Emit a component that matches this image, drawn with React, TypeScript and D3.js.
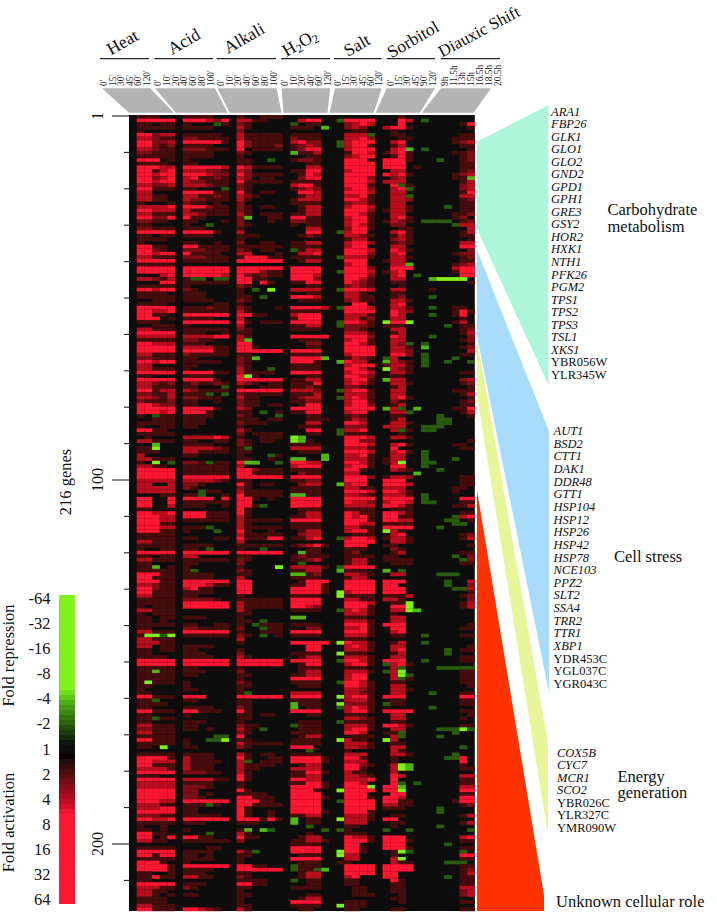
import React from "react";
import * as d3 from "d3";

// Conditions and their time points
const conditions = ["Heat", "Acid", "Alkali", "H2O2", "Salt", "Sorbitol", "Diauxic Shift"];
const timeLabels = [
  ["0'", "15'", "30'", "45'", "60'", "120'"],
  ["0'", "10'", "20'", "40'", "60'", "80'", "100'"],
  ["0'", "10'", "20'", "40'", "60'", "80'", "100'"],
  ["0'", "10'", "20'", "40'", "60'", "120'"],
  ["0'", "15'", "30'", "45'", "60'", "120'"],
  ["0'", "15'", "30'", "45'", "90'", "120'"],
  ["9h", "11.5h", "13h", "15h", "16.5h", "18.5h", "20.5h"],
];
const hasZeroColumn = [true, true, true, true, true, true, false];

// 0 black, 1-4 rising red, a-c rising green.
// Groups: Heat Acid Alkali H2O2 Salt Sorbitol Diauxic (zero-minute columns left out).
const geneRows = [
"11100 111100 100111 00000 00000 00100 0000000",
"44444 444324 331100 03440 a4444 00430 a000000",
"11011 1000a1 210000 a0110 02343 00400 0000014",
"11111 111100 310000 1110b 02320 34410 0000001",
"10000 000000 200000 00000 00110 01000 0000000",
"44233 111110 311111 11110 0333a 01100 0000011",
"33211 221111 311111 21110 03342 00110 0000111",
"44223 444441 421111 34220 a3444 03400 0000123",
"44212 111100 421112 12320 a3441 01300 0000011",
"33211 222111 401111 12440 03444 034b0 a000001",
"22111 111100 210000 b1130 01443 13410 0000112",
"11111 111100 100000 00110 02344 01410 0000012",
"44401 100000 1100a0 12210 04441 44410 00a0012",
"11110 110000 110000 00110 04444 44400 0000011",
"44433 444443 431111 00330 04444 44401 0000011",
"44134 333221 320000 11440 03444 03300 0000012",
"44344 444322 421111 01430 04444 43410 0000123",
"44234 341121 320110 02440 04442 02300 000011b",
"44344 322111 411111 11110 04443 33300 0000013",
"33223 333211 210000 34410 04441 04a10 0000023",
"44111 11000a 210000 12320 03442 034a0 0000023",
"33000 444411 410110 04430 04443 03300 0000014",
"33110 331121 321000 01330 03341 033a0 0000033",
"33110 322111 310000 13330 04431 03320 0000012",
"10001 211010 200000 11110 02331 03300 0000011",
"33334 444211 210110 01330 03443 03310 000a011",
"44333 311111 210000 01330 04442 13310 0000011",
"33111 332111 310111 11330 04431 03300 0000112",
"44224 411000 2b0011 44110 03441 03410 0000120",
"22110 110001 200010 22110 03441 13210 aaaa012",
"11000 100a00 210000 10110 03431 02200 0000a33",
"22111 111000 100000 00330 02441 00110 0000003",
"44444 444410 300000 00440 a3440 03410 0000013",
"11011 111100 111000 01210 03321 01310 0000011",
"11110 000000 100000 00000 01330 02310 0000001",
"10000 110010 200110 11330 03442 01210 0000033",
"44110 441111 111111 11110 03440 03300 0000044",
"44210 222111 210110 a1330 04443 04310 0000002",
"44344 411110 330001 03340 04442 03400 0000122",
"33111 222111 144411 11110 a3331 03310 0000012",
"44444 111111 444444 01330 04440 13300 0000011",
"11111 000000 000000 00000 03440 033b0 0000123",
"44444 444444 444444 44440 04442 04440 0000344",
"44444 444444 444211 44440 a4443 13400 0000144",
"00034 444443 421211 44430 04442 0340a 0000044",
"33213 1aa0aa 441100 44420 04431 03300 0bcccc0",
"00044 111111 440410 11440 04321 01100 0000001",
"11111 100000 210000 00110 02321 00100 0000000",
"44344 210000 10a0c0 33330 a4443 03300 0100000",
"11110 111000 100000 00110 03310 01100 0000000",
"11111 111000 110a00 44430 03311 01200 0a00000",
"00111 111100 210000 01110 02311 03310 0000000",
"11110 000011 100000 00000 00440 03400 0000000",
"44444 111211 210001 44443 a4443 03310 0a00110",
"44334 111111 310000 11110 04444 04320 0000141",
"44110 444444 441100 34440 03331 04300 0a00140",
"44401 111100 300000 14440 03312 03300 0000010",
"11100 444444 410111 44440 a4431 c44c0 0000130",
"00111 100000 300000 11330 a2221 11100 000a011",
"33111 111111 210000 11110 02210 03300 0000012",
"44444 111001 110000 00000 03331 01300 0000013",
"33333 333344 310000 44444 04442 04300 0a00002",
"11111 221100 3b0000 01110 03441 03300 0000012",
"44333 111000 440000 00220 04431 032a0 a000001",
"44444 333311 441000 00110 04444 03310 b000012",
"44444 444411 444444 44440 04444 03320 0000003",
"33111 211111 110000 11110 03444 04420 a000011",
"22111 110000 21b000 4444b 01321 a3000 a000a00",
"44344 111110 210000 44410 b4330 b3210 a00a00a",
"33000 110000 210000 11110 03444 13310 a000000",
"33111 100000 3100a0 11110 04431 c3210 0000000",
"44444 444411 311110 44440 03443 03310 0000011",
"11000 111100 4c1000 00110 04432 01100 0000000",
"44444 444410 444444 11330 03441 b3300 0000023",
"33212 121121 321011 11140 03431 03310 0000012",
"33111 11000a 100111 11210 02210 01300 0000001",
"44133 321111 444444 33320 a3441 03300 0000111",
"22113 111a0a 211111 11130 03331 03300 0000013",
"33213 221110 311000 12330 a3431 03410 0000001",
"21112 110010 211000 11220 03441 02100 0000012",
"44322 110000 211011 01440 03442 01300 0000011",
"44444 444410 320000 44440 04444 b3a0b 0000114",
"44434 444100 110a01 11440 03440 033a0 0000013",
"10a11 111100 21000a 00110 01210 01100 00a0001",
"00111 111000 111011 00111 01320 01300 00aa000",
"11111 111000 211100 00330 04430 03310 00aa000",
"10011 110000 100000 01110 02220 33300 aaa0000",
"44110 000000 310000 00440 a3340 03a10 aa00000",
"11111 000000 201111 00110 a1110 00100 0000000",
"01000 333343 100111 cb000 04443 03310 0000000",
"33111 110011 210110 cb100 04422 00000 0000001",
"00b00 111100 210000 11110 04443 03410 0000110",
"11c00 333321 1a0000 33330 03331 04000 0000011",
"11100 331111 110000 01110 04443 03410 a000000",
"30000 110000 1000a1 0000b 03341 03300 a000000",
"33111 000000 110010 bb00b 03331 13300 a000a00",
"10c0a 221a11 4bb00a 44330 04431 13c00 aa00000",
"33110 111111 300000 34440 03441 04400 a000000",
"44444 111111 442111 11110 04410 03210 00a0000",
"44444 111111 441111 02110 03300 0000b 0000000",
"44444 444444 444444 44440 04442 13320 0000011",
"33333 333321 110000 11220 04440 44400 0000011",
"33003 221000 410110 02330 b3440 44430 0000011",
"33333 210000 210000 11110 03311 33300 0000110",
"33333 00a110 311111 11110 04443 44310 0000100",
"00011 11a001 411111 bb110 03321 33310 a000000",
"44004 444404 441010 44440 04444 44440 a000044",
"44004 111111 440000 44440 04332 34430 aa00011",
"44003 111001 441a00 44440 03333 44310 0000113",
"11000 000000 410000 01110 01111 01110 0000000",
"44334 444111 410000 01330 04311 44310 0000011",
"44433 444111 310000 11330 04341 44110 0000a34",
"44433 111111 311111 44440 04441 44330 000aa01",
"44411 000000 310000 11110 04433 11110 0000aa0",
"44433 111a00 311111 11110 03311 44440 00a0000",
"44411 1000a0 410010 01330 03441 c3100 0000000",
"11111 000000 311111 02330 00111 03400 0000012",
"11111 110011 411144 11340 a3443 13310 0000013",
"33111 000000 300000 00000 04444 03310 0000000",
"11111 111100 111111 12341 04440 11000 0000001",
"10011 110a00 100a00 00110 01110 02100 0000000",
"44444 444444 444444 0b110 01200 01300 0000011",
"11011 330000 110000 12111 01111 11000 0000a02",
"33111 111111 210000 11230 01330 11110 00000a2",
"11000 110000 200000 0a000 01330 01110 0000011",
"11b01 100000 10000c 33331 a4444 00000 0000000",
"11111 1a0000 210000 11330 b1110 b0a00 0000000",
"44411 111100 110000 bb120 03321 03300 00aaa00",
"44111 111100 300000 11110 01330 00000 0000000",
"44411 444444 440000 01444 04444 44400 000a003",
"33211 444311 440000 11441 04444 44000 000a002",
"44211 341100 440000 44441 04444 44400 0000aa3",
"44111 111100 440000 44441 c3444 44400 0000001",
"33111 110000 100000 11110 c1111 11130 0000012",
"11111 222210 111111 44440 03311 33100 0000002",
"11111 444444 311111 44440 04443 011c0 0000013",
"10111 444444 311111 44320 04441 044c0 0000013",
"33111 000000 310000 11110 a3431 033cb 0000000",
"10111 000000 110000 00000 03331 01000 0000000",
"11011 111000 100000 bb000 01110 03300 0000000",
"11010 000000 110a00 00000 03331 03300 0000000",
"11111 110011 10a111 11110 04441 44400 0000001",
"11000 221111 200a11 00220 03341 04400 0000011",
"33111 444444 100111 44440 04441 03400 0000000",
"1ccac 111111 210a01 11110 03331 01100 a000011",
"33111 000000 300000 00000 01110 00000 0000000",
"33311 000000 100000 44444 c4331 01300 a000000",
"33011 111100 000000 00440 03431 03300 0000001",
"11011 110000 100000 00440 03331 03400 000a011",
"11000 111000 200000 11110 c1110 01300 000a000",
"11110 111100 310000 01330 03331 03300 0000011",
"44444 444444 444444 44440 a4431 44400 a000011",
"44444 444444 444444 01440 03441 a3410 0000000",
"11111 110000 100000 01110 01110 03a00 00aaaaa",
"11b11 111000 200000 01330 03331 a3c00 0000011",
"11111 110000 110000 11330 03440 03ca0 0000011",
"11111 000000 100000 44440 03440 03a10 0000011",
"1c111 100000 210000 11110 a4431 01100 0000011",
"11000 100000 110000 01110 04431 03300 0000001",
"10000 110000 100000 00000 03321 03310 0000000",
"11000 000000 1a0000 33330 03321 03300 0a00011",
"44111 444000 444444 44440 c3441 44400 0000044",
"11a00 110000 110000 11110 03331 01100 0000011",
"11110 000000 110000 b1110 c2221 a1100 0000011",
"11000 111100 210000 b0110 a3431 00000 0a00000",
"44111 441110 410000 44440 03441 44440 0000011",
"11000 100000 110110 00110 01110 03300 0000001",
"11a11 000000 110000 00000 03321 03300 0000010",
"11000 111000 100000 01110 a1111 01100 0000000",
"33111 110000 211000 a1110 03331 44310 0000011",
"22111 110100 310a00 01110 03441 03300 00aaaca",
"33111 000000 210000 11110 04430 11a00 0000a00",
"11111 0000aa 400000 01330 00111 03a00 00a0000",
"44111 100aac 110000 11110 c3110 c3000 0000000",
"11111 100000 311111 11110 03331 01100 0000000",
"110c0 110000 210000 44400 03321 03300 00000a0",
"00000 000000 000000 00a00 01000 03100 0000000",
"11111 111100 310110 11110 03330 03310 0000a00",
"44441 311100 410011 44441 04410 01000 000aa40",
"44333 311110 3a0111 44441 03330 01000 0000040",
"44111 311100 311110 01330 04421 03cb0 0000010",
"33331 311100 311000 33330 04410 03cb0 0000011",
"44444 222110 310000 11441 03110 03000 0000000",
"11100 000000 410000 11330 03321 04300 0000033",
"44444 333311 410000 44330 03334 04000 0000011",
"33333 111100 100000 11441 04430 04a0a 0000011",
"33333 222100 100000 44441 0444c 44b00 0000033",
"44444 220000 410000 44410 c4444 44c00 0000044",
"44444 220100 111100 44440 04440 04400 0000011",
"44444 221000 441110 44441 04441 44300 0000044",
"44433 444444 444110 44440 a4444 44110 0000144",
"33311 111a10 441111 44440 04444 33110 0000012",
"33344 110000 410000 44440 04444 11100 00a0000",
"44444 110000 410010 44441 04441 00000 00a0000",
"22211 111110 410010 11330 03331 01100 0000013",
"44334 444444 444141 b0110 c3331 44000 0000000",
"11111 111000 111000 b0110 03330 01100 0000013",
"10010 000000 000000 00a00 01100 01000 00a0000",
"11010 100000 1b0ba0 0000a a1000 a00a0 000000a",
"44110 000a00 310000 00100 01110 00000 0000000",
"44014 441100 411000 01330 04331 44400 0000034",
"33110 111111 200000 11331 04441 44410 0000011",
"00000 000000 000000 11110 04400 44400 000a000",
"11111 000110 000000 44440 04410 44410 0000011",
"44444 111100 31a000 44440 c4410 01ca0 00000a0",
"44144 110100 110000 01110 c3300 01000 0000044",
"11111 111100 100000 44440 03300 03c00 0000011",
"44410 100000 100000 01110 11000 03110 000aaa0",
"44441 444444 441100 a1110 04444 44440 0000011",
"44441 111100 444444 a11ab 04444 44440 0000012",
"11001 111000 110000 01330 04444 44000 0000013",
"11411 331100 210000 01330 03400 44000 000a011",
"11000 000000 111100 a0110 01100 04100 0000011",
"44444 111000 441100 00110 01100 01100 0000011",
"33311 210000 110000 11110 00110 01100 0000033",
"33110 000000 100000 00000 00110 01100 0000023",
"33101 110000 110000 00110 00111 00100 0000023",
"11110 000000 100000 01330 00000 01100 0000000",
"11110 000000 100000 44440 01110 00100 0000011",
"33111 000000 110000 11110 c1110 00000 0000000",
"44111 443210 310000 01100 01100 01100 0000011",
];

const groupLabels = [
  "ARA1 FBP26 GLK1 GLO1 GLO2 GND2 GPD1 GPH1 GRE3 GSY2 HOR2 HXK1 NTH1 PFK26 PGM2 TPS1 TPS2 TPS3 TSL1 XKS1".split(" "),
  "AUT1 BSD2 CTT1 DAK1 DDR48 GTT1 HSP104 HSP12 HSP26 HSP42 HSP78 NCE103 PPZ2 SLT2 SSA4 TRR2 TTR1 XBP1".split(" "),
  "COX5B CYC7 MCR1 SCO2".split(" "),
];
const groupOrfs = [
  ["YBR056W", "YLR345W"],
  ["YDR453C", "YGL037C", "YGR043C"],
  ["YBR026C", "YLR327C", "YMR090W"],
];
const foldTicks = ["-64", "-32", "-16", "-8", "-4", "-2", "1", "2", "4", "8", "16", "32", "64"];
const levelValues: Record<string, number> = { "0": 0, "1": 0.85, "2": 1.4, "3": 1.95, "4": 3.2, a: -1.0, b: -1.9, c: -3.2 };

const serif = "'Liberation Serif', serif";
const W = 717, H = 920;

const color = d3
  .scaleLinear<string>()
  .domain([-6, -2.4, -1.8, -0.3, 0, 0.3, 1, 2, 2.6, 6])
  .range(["#7ff21c", "#7ff21c", "#4aa814", "#0e1a0a", "#0a0a0a", "#0e0606", "#56080f", "#bc0c20", "#ff1432", "#ff1432"])
  .clamp(true);

const rows = geneRows.map((r) => r.replace(/ /g, ""));
const matrix: number[][] = rows.map((r) => {
  const chars = r.split("");
  const out: number[] = [];
  let p = 0;
  timeLabels.forEach((labels, g) => {
    labels.forEach((_, i) => {
      if (i === 0 && hasZeroColumn[g]) out.push(0);
      else out.push(levelValues[chars[p++]] ?? 0);
    });
  });
  return out;
});

const nCols = d3.sum(timeLabels, (d) => d.length);
const x = d3.scaleBand<number>().domain(d3.range(nCols)).range([129, 474.8]);
const y = d3.scaleBand<number>().domain(d3.range(rows.length)).range([115, 911]);
const tickY = (i: number) => 116 + 3.64 * i;

const headerTop: [number, number][] = [
  [100, 149], [154.3, 213], [216.7, 276], [281, 330], [334, 381.7], [386.7, 435], [440.7, 500],
];
const trapTop: [number, number][] = [
  [102, 150], [155, 215], [217.5, 276.5], [281.7, 330], [335, 381.7], [386.7, 435], [441, 491],
];
const titlePos: [number, number][] = [
  [111, 55.5], [172, 55], [228, 54], [286.5, 57], [348, 57], [391.5, 58.5], [442, 57.5],
];

const wedges = [
  { c: "#aff5dc", p: [[477, 141.7], [548.5, 105], [548.5, 385], [477, 229]] },
  { c: "#a8dcfa", p: [[477, 250], [549, 431], [549, 693], [477, 336]] },
  { c: "#e8f59a", p: [[477, 338], [548, 743], [548, 835], [477, 395]] },
  { c: "#ff3300", p: [[477, 490], [544, 895], [544, 911], [477, 911]] },
];

function GeneList({ x: gx, y0, step, genes, orfs }: { x: number; y0: number; step: number; genes: string[]; orfs: string[] }) {
  return (
    <g fontSize={12.5} fill="#111">
      {genes.map((g, i) => (
        <text key={g} x={gx} y={y0 + i * step + 4} fontStyle="italic">{g}</text>
      ))}
      {orfs.map((g, i) => (
        <text key={g} x={gx} y={y0 + (genes.length + i) * step + 4}>{g}</text>
      ))}
    </g>
  );
}

export default function App() {
  let colStart = 0;
  const starts = timeLabels.map((l) => {
    const s = colStart;
    colStart += l.length;
    return s;
  });
  const bw = x.bandwidth();

  const barTop = 595, barBottom = 904;
  const steps = 62;
  const barScale = d3.scaleLinear().domain([0, steps]).range([barTop, barBottom]);
  const barValue = d3.scaleLinear().domain([0, steps]).range([-6, 6]);
  const tickLabelY = d3.scalePoint<string>().domain(foldTicks).range([599, 900]);

  return (
    <svg width={W} height={H} viewBox={`0 0 ${W} ${H}`} style={{ position: "absolute", left: 0, top: 0, background: "#fff" }} fontFamily={serif}>
      <defs>
        <filter id="soft" x="0" y="0" width="1" height="1">
          <feGaussianBlur stdDeviation="0.55" edgeMode="duplicate" />
        </filter>
      </defs>

      {/* condition headers */}
      {conditions.map((c, g) => {
        const n = timeLabels[g].length;
        const [l, r] = headerTop[g];
        const labelX = d3.scalePoint<string>().domain(timeLabels[g]).range([l + 4, r - 2.5]);
        const bl = x(starts[g])! + (g === 0 ? 0 : 0.8);
        const br = x(starts[g] + n - 1)! + bw - 1.2;
        const tt = trapTop[g];
        const isLong = c === "Diauxic Shift";
        return (
          <g key={c}>
            <line x1={l} x2={r} y1={58.7} y2={58.7} stroke="#222" strokeWidth={1.2} />
            <text transform={`translate(${titlePos[g][0]},${titlePos[g][1]}) rotate(${isLong ? -28 : -30})`} fontSize={isLong ? 16.8 : 17.5} fill="#111">
              {c === "H2O2" ? (
                <>H<tspan fontSize={12} dy={3}>2</tspan><tspan dy={-3}>O</tspan><tspan fontSize={12} dy={3}>2</tspan></>
              ) : c}
            </text>
            {timeLabels[g].map((t) => (
              <text key={t} transform={`translate(${labelX(t)! + 3},86) rotate(-90)`} fontSize={9.4} fill="#222">{t}</text>
            ))}
            <polygon points={`${tt[0]},88.3 ${tt[1]},88.3 ${br},112.7 ${bl},112.7`} fill="#b3b3b3" />
          </g>
        );
      })}

      {/* heat map */}
      <g filter="url(#soft)">
        <rect x={129} y={115} width={345.8} height={796} fill="#0a0a0a" />
        {matrix.map((row, ri) =>
          row.map((v, ci) =>
            v === 0 ? null : (
              <rect key={`${ri}-${ci}`} x={x(ci)} y={y(ri)} width={bw + 0.2} height={y.bandwidth() + 0.2} fill={color(v)} />
            )
          )
        )}
      </g>

      {/* gene index axis */}
      {d3.range(0, 211, 10).map((i) => {
        const major = i === 0 || i === 100 || i === 200;
        return <line key={i} x1={major ? 112 : 124} x2={129} y1={tickY(i)} y2={tickY(i)} stroke="#222" strokeWidth={1.1} />;
      })}
      {[["1", 0], ["100", 100], ["200", 200]].map(([t, i]) => (
        <text key={t as string} transform={`translate(103,${tickY(i as number)}) rotate(-90)`} textAnchor="middle" fontSize={16} fill="#111">{t}</text>
      ))}
      <text transform="translate(71,482) rotate(-90)" textAnchor="middle" fontSize={16.5} fill="#111">216 genes</text>

      {/* colour bar */}
      <g filter="url(#soft)">
        {d3.range(steps).map((i) => {
          const top = Math.round(barScale(i));
          const bottom = Math.round(barScale(i + 1));
          return <rect key={i} x={59} width={16} y={top} height={bottom - top} fill={color(barValue(i + 0.5))} shapeRendering="crispEdges" />;
        })}
      </g>
      {foldTicks.map((t) => (
        <text key={t} x={50.5} y={tickLabelY(t)! + 5} textAnchor="end" fontSize={16.5} fill="#111">{t}</text>
      ))}
      <text transform="translate(14,655.5) rotate(-90)" textAnchor="middle" fontSize={16.5} fill="#111">Fold repression</text>
      <text transform="translate(14,822.5) rotate(-90)" textAnchor="middle" fontSize={16.5} fill="#111">Fold activation</text>

      {/* functional wedges */}
      {wedges.map((w) => (
        <polygon key={w.c} points={w.p.map((q) => q.join(",")).join(" ")} fill={w.c} />
      ))}

      <GeneList x={551} y0={111.5} step={12.54} genes={groupLabels[0]} orfs={groupOrfs[0]} />
      <GeneList x={553.5} y0={431} step={12.65} genes={groupLabels[1]} orfs={groupOrfs[1]} />
      <GeneList x={557} y0={752.7} step={12.55} genes={groupLabels[2]} orfs={groupOrfs[2]} />

      <g fontSize={16.5} fill="#111">
        <text x={607.5} y={215}>Carbohydrate</text>
        <text x={607.5} y={232}>metabolism</text>
        <text x={614} y={562}>Cell stress</text>
        <text x={617.5} y={781.5}>Energy</text>
        <text x={617.5} y={798}>generation</text>
        <text x={556} y={907}>Unknown cellular role</text>
      </g>
    </svg>
  );
}
